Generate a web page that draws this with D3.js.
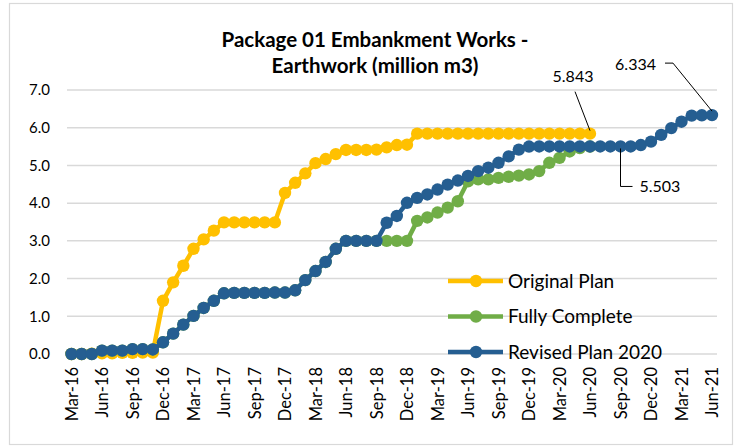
<!DOCTYPE html>
<html>
<head>
<meta charset="utf-8">
<script src="https://cdn.jsdelivr.net/npm/d3@7"></script>
<style>
  body { margin: 0; background: #fff; }
  text { font-family: Lato, "Open Sans", sans-serif; fill: #000; }
</style>
</head>
<body>
<script>
// month categories, Mar-16 .. Jun-21
var months = [
  "Mar-16","Apr-16","May-16","Jun-16","Jul-16","Aug-16","Sep-16","Oct-16","Nov-16","Dec-16",
  "Jan-17","Feb-17","Mar-17","Apr-17","May-17","Jun-17","Jul-17","Aug-17","Sep-17","Oct-17","Nov-17","Dec-17",
  "Jan-18","Feb-18","Mar-18","Apr-18","May-18","Jun-18","Jul-18","Aug-18","Sep-18","Oct-18","Nov-18","Dec-18",
  "Jan-19","Feb-19","Mar-19","Apr-19","May-19","Jun-19","Jul-19","Aug-19","Sep-19","Oct-19","Nov-19","Dec-19",
  "Jan-20","Feb-20","Mar-20","Apr-20","May-20","Jun-20","Jul-20","Aug-20","Sep-20","Oct-20","Nov-20","Dec-20",
  "Jan-21","Feb-21","Mar-21","Apr-21","May-21","Jun-21"
];

var tickLabels = ["Mar-16","Jun-16","Sep-16","Dec-16","Mar-17","Jun-17","Sep-17","Dec-17",
  "Mar-18","Jun-18","Sep-18","Dec-18","Mar-19","Jun-19","Sep-19","Dec-19",
  "Mar-20","Jun-20","Sep-20","Dec-20","Mar-21","Jun-21"];

var yTicks = [0, 1, 2, 3, 4, 5, 6, 7];

// Original Plan (ends Jun-20)
var originalPlan = [
  0.00, 0.00, 0.01, 0.02, 0.02, 0.03, 0.03, 0.04, 0.04, 1.41,
  1.90, 2.34, 2.79, 3.04, 3.27, 3.49, 3.49, 3.49, 3.49, 3.49, 3.49, 4.27,
  4.54, 4.79, 5.06, 5.17, 5.30, 5.41, 5.41, 5.41, 5.42, 5.48, 5.54, 5.55,
  5.843, 5.843, 5.843, 5.843, 5.843, 5.843, 5.843, 5.843, 5.843, 5.843, 5.843, 5.843,
  5.843, 5.843, 5.843, 5.843, 5.843, 5.843
];

// Fully Complete (actuals)
var fullyComplete = [
  0.00, 0.00, 0.00, 0.09, 0.09, 0.09, 0.13, 0.13, 0.12, 0.31,
  0.54, 0.78, 1.01, 1.22, 1.41, 1.61, 1.62, 1.62, 1.62, 1.62, 1.63, 1.63,
  1.69, 1.96, 2.20, 2.44, 2.79, 3.00, 3.00, 3.00, 3.00, 3.00, 3.00, 3.00,
  3.53, 3.62, 3.75, 3.88, 4.05, 4.58, 4.63, 4.63, 4.67, 4.70, 4.73, 4.76,
  4.85, 5.07, 5.20, 5.37, 5.46, 5.50
];

// Revised Plan 2020
var revisedPlan = [
  0.00, 0.00, 0.00, 0.09, 0.09, 0.09, 0.13, 0.13, 0.12, 0.31,
  0.54, 0.78, 1.01, 1.22, 1.41, 1.61, 1.62, 1.62, 1.62, 1.62, 1.63, 1.63,
  1.69, 1.96, 2.20, 2.44, 2.79, 3.00, 3.00, 3.00, 3.00, 3.48, 3.66, 4.01,
  4.14, 4.23, 4.36, 4.49, 4.60, 4.72, 4.85, 4.94, 5.07, 5.24, 5.42, 5.50,
  5.503, 5.503, 5.503, 5.503, 5.503, 5.503, 5.503, 5.503, 5.503, 5.503, 5.54, 5.63,
  5.81, 5.99, 6.16, 6.32, 6.33, 6.334
];

var series = [
  { name: "Original Plan", color: "#FFC000", values: originalPlan },
  { name: "Fully Complete", color: "#70AD47", values: fullyComplete },
  { name: "Revised Plan 2020", color: "#255E91", values: revisedPlan }
];

var svgWidth = 734;
var svgHeight = 446;

var svg = d3.select("body")
  .append("svg")
  .attr("width", svgWidth)
  .attr("height", svgHeight);

// chart frame
svg.append("rect")
  .attr("x", 9.5)
  .attr("y", 3.5)
  .attr("width", 723)
  .attr("height", 441)
  .attr("fill", "#fff")
  .attr("stroke", "#D9D9D9")
  .attr("stroke-width", 1.2);

var xScale = d3.scalePoint()
  .domain(months)
  .range([71.5, 712]);

var yScale = d3.scaleLinear()
  .domain([0, 7])
  .range([354, 90]);

// gridlines
svg.append("g")
  .selectAll("line")
  .data(yTicks)
  .enter()
  .append("line")
  .attr("x1", 67)
  .attr("x2", 717)
  .attr("y1", d => yScale(d))
  .attr("y2", d => yScale(d))
  .attr("stroke", "#D9D9D9")
  .attr("stroke-width", 1.5);

// y axis labels
var leftAxis = d3.axisLeft(yScale)
  .tickValues(yTicks)
  .tickFormat(d3.format(".1f"))
  .tickSize(0)
  .tickPadding(0);

svg.append("g")
  .attr("transform", "translate(50, 0)")
  .call(leftAxis)
  .call(g => g.select(".domain").remove())
  .selectAll("text")
  .style("font-size", "15px")
  .style("font-family", "Lato, sans-serif")
  .attr("fill", "#000");

// x axis labels, rotated
var bottomAxis = d3.axisBottom(xScale)
  .tickValues(tickLabels)
  .tickSize(0)
  .tickPadding(0);

svg.append("g")
  .attr("transform", "translate(0, 367)")
  .call(bottomAxis)
  .call(g => g.select(".domain").remove())
  .selectAll("text")
  .style("font-size", "16.5px")
  .style("font-family", "Lato, sans-serif")
  .attr("fill", "#000")
  .attr("transform", "rotate(-90)")
  .attr("text-anchor", "end")
  .attr("x", 0)
  .attr("y", 0)
  .attr("dx", 0)
  .attr("dy", "0.35em");

// series lines and markers
var line = d3.line()
  .x((d, i) => xScale(months[i]))
  .y(d => yScale(d));

series.forEach(function(s) {
  svg.append("path")
    .datum(s.values)
    .attr("d", line)
    .attr("fill", "none")
    .attr("stroke", s.color)
    .attr("stroke-width", 4.5)
    .attr("stroke-linejoin", "round");

  svg.append("g")
    .selectAll("circle")
    .data(s.values)
    .enter()
    .append("circle")
    .attr("cx", (d, i) => xScale(months[i]))
    .attr("cy", d => yScale(d))
    .attr("r", 6.2)
    .attr("fill", s.color);
});

// title
var title = svg.append("text")
  .attr("text-anchor", "middle")
  .style("font-size", "20.5px")
  .style("font-weight", "bold");
title.append("tspan").attr("x", 375).attr("y", 47).text("Package 01 Embankment Works -");
title.append("tspan").attr("x", 375).attr("y", 73).text("Earthwork (million m3)");

// data callouts
function callout(month, value, points, label, tx, ty, anchor) {
  var px = xScale(month), py = yScale(value);
  svg.append("polyline")
    .attr("points", points.map(p => (px + p[0]) + "," + (py + p[1])).join(" "))
    .attr("fill", "none")
    .attr("stroke", "#000")
    .attr("stroke-width", 1);
  svg.append("text")
    .attr("x", px + tx)
    .attr("y", py + ty)
    .attr("text-anchor", anchor)
    .attr("dy", "0.35em")
    .style("font-size", "16px")
    .text(label);
}

callout("Jun-20", originalPlan[originalPlan.length - 1], [[0, -3], [-15, -42]],
  "5.843", -17, -57, "middle");
callout("Jun-21", revisedPlan[revisedPlan.length - 1], [[0, -4], [-39, -52], [-47, -52]],
  "6.334", -56, -51, "end");
callout("Sep-20", revisedPlan[months.indexOf("Sep-20")], [[0, 2], [0, 40], [12, 40]],
  "5.503", 19, 40, "start");

// legend
var legend = svg.append("g")
  .selectAll("g")
  .data(series)
  .enter()
  .append("g")
  .attr("transform", (d, i) => `translate(448, ${281 + i * 35.5})`);

legend.append("line")
  .attr("x1", 0)
  .attr("x2", 55)
  .attr("stroke", d => d.color)
  .attr("stroke-width", 4.5);

legend.append("circle")
  .attr("cx", 28)
  .attr("r", 6.2)
  .attr("fill", d => d.color);

legend.append("text")
  .attr("x", 60)
  .attr("dy", "0.35em")
  .style("font-size", "19px")
  .text(d => d.name);
</script>
</body>
</html>
